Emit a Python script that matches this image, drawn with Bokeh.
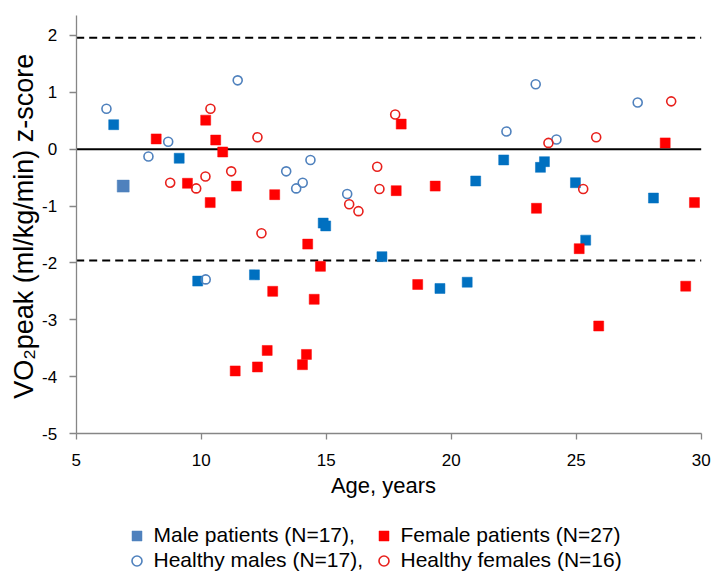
import math
from bokeh.plotting import figure
from bokeh.models import Legend, LegendItem, FixedTicker, Range1d, Label
from bokeh.embed import file_html
from bokeh.resources import INLINE

# ---- data ----
x_ticks = [5, 10, 15, 20, 25, 30]
y_ticks = [-5, -4, -3, -2, -1, 0, 1, 2]
y_tick_labels = ["-5", "-4", "-3", "-2", "-1", "0", "1", "2"]
x_axis_min, x_axis_max = 5, 30
y_axis_min, y_axis_max = -5, 2.35
z_limit = 1.96
z_zero = 0.0

male_patients_age = [6.50, 9.12, 9.86, 12.13, 14.88, 14.98, 17.23, 19.55, 20.64, 20.98,
                     22.10, 23.57, 23.73, 24.97, 25.38, 28.09]
male_patients_z = [0.43, -0.16, -2.32, -2.21, -1.30, -1.35, -1.89, -2.45, -2.34, -0.56,
                   -0.19, -0.32, -0.22, -0.59, -1.60, -0.86]
male_patient_marked_age = [6.88]
male_patient_marked_z = [-0.65]

female_patients_age = [8.20, 9.45, 10.18, 10.36, 10.58, 10.86, 11.41, 12.94, 14.26, 12.86,
                       12.64, 11.36, 12.25, 14.21, 14.05, 14.52, 18.00, 17.80, 19.36, 14.77,
                       18.66, 28.56, 29.73, 23.41, 25.12, 29.38, 25.90]
female_patients_z = [0.18, -0.60, 0.51, -0.94, 0.16, -0.05, -0.65, -0.80, -1.67, -2.50,
                     -3.54, -3.90, -3.83, -3.61, -3.79, -2.64, 0.44, -0.73, -0.65, -2.06,
                     -2.38, 0.11, -0.94, -1.04, -1.75, -2.41, -3.11]

healthy_males_age = [6.21, 7.89, 8.68, 11.46, 13.40, 13.80, 14.06, 14.37, 10.18, 15.84,
                     22.21, 23.38, 27.46, 24.21]
healthy_males_z = [0.71, -0.13, 0.13, 1.21, -0.39, -0.69, -0.59, -0.19, -2.29, -0.79,
                   0.31, 1.14, 0.82, 0.17]

healthy_females_age = [8.76, 9.80, 10.17, 10.37, 11.20, 12.25, 12.41, 17.76, 17.04, 17.13,
                       15.92, 16.29, 23.89, 25.80, 28.80, 25.28]
healthy_females_z = [-0.59, -0.69, -0.48, 0.71, -0.39, 0.21, -1.48, 0.61, -0.31, -0.70,
                     -0.97, -1.09, 0.11, 0.21, 0.84, -0.70]

labels = ["Male patients (N=17),", "Female patients (N=27)",
          "Healthy males (N=17),", "Healthy females (N=16)"]
x_title = "Age, years"
y_title = "VO\u2082peak (ml/kg/min)  z-score"

FONT = "Liberation Sans"
BLUE = "#0070C0"
STEEL = "#4F81BD"
RED = "#FF0000"

# Layout: the frame covers the whole canvas; axes are pinned inside it.
W, H = 717, 580
left_px, right_px = 75.7, 700.7      # x = 5 and x = 30
top_px, axis_px = 15, 433            # y = 2.35 and y = -5
xs = (right_px - left_px) / (x_axis_max - x_axis_min)
ys = (axis_px - top_px) / (y_axis_max - y_axis_min)
x_range = Range1d(x_axis_min - left_px / xs, x_axis_max + (W - right_px) / xs)
y_range = Range1d(y_axis_min - (H - axis_px) / ys, y_axis_max + top_px / ys)

p = figure(width=W, height=H, output_backend="svg", toolbar_location=None, tools="",
           x_range=x_range, y_range=y_range,
           min_border_left=0, min_border_right=0, min_border_top=0, min_border_bottom=0)
p.outline_line_color = None
p.xgrid.visible = False
p.ygrid.visible = False
p.background_fill_color = "white"
p.border_fill_color = "white"

for ax in (p.xaxis[0], p.yaxis[0]):
    ax.axis_line_color = "#868686"
    ax.axis_line_width = 1.3
    ax.major_tick_line_color = "#868686"
    ax.major_tick_line_width = 1.3
    ax.major_tick_in = 0
    ax.minor_tick_line_color = None
    ax.major_label_text_font = FONT
    ax.major_label_text_font_size = "17px"
    ax.major_label_text_color = "black"

p.xaxis.fixed_location = y_axis_min
p.yaxis.fixed_location = x_axis_min
p.xaxis.bounds = (x_axis_min, x_axis_max)
p.yaxis.bounds = (y_axis_min, y_axis_max)
p.xaxis.ticker = FixedTicker(ticks=x_ticks)
p.yaxis.ticker = FixedTicker(ticks=y_ticks)
p.yaxis.major_label_overrides = dict(zip(y_ticks, y_tick_labels))
p.xaxis.major_tick_out = 6
p.yaxis.major_tick_out = 7
p.xaxis.major_label_standoff = 14
p.yaxis.major_label_standoff = 12

# axis titles
p.add_layout(Label(x=383, y=H - 485, x_units="screen", y_units="screen", text=x_title,
                   text_font=FONT, text_font_size="22px", text_color="black",
                   text_align="center", text_baseline="middle"))
p.add_layout(Label(x=23, y=H - 222, x_units="screen", y_units="screen", text=y_title,
                   angle=math.pi / 2, text_font=FONT, text_font_size="27px",
                   text_color="black", text_align="center", text_baseline="middle"))

# reference lines (zero and +/-1.96)
p.segment(x0=[x_axis_min], x1=[x_axis_max], y0=[z_zero], y1=[z_zero],
          line_color="black", line_width=2)
p.segment(x0=[x_axis_min, x_axis_min], x1=[x_axis_max, x_axis_max],
          y0=[z_limit, -z_limit], y1=[z_limit, -z_limit],
          line_color="black", line_width=2, line_dash="8 5")

r_mp = p.scatter(male_patients_age, male_patients_z, marker="square", size=10,
                 fill_color=BLUE, line_color=BLUE, line_width=0.5)
r_mark = p.scatter(male_patient_marked_age, male_patient_marked_z, marker="square", size=12,
                   fill_color=STEEL, line_color=STEEL, line_width=0.5)
r_fp = p.scatter(female_patients_age, female_patients_z, marker="square", size=10,
                 fill_color=RED, line_color=RED, line_width=0.5)
r_hm = p.scatter(healthy_males_age, healthy_males_z, marker="circle", size=9,
                 fill_color=None, line_color=STEEL, line_width=1.6)
r_hf = p.scatter(healthy_females_age, healthy_females_z, marker="circle", size=9,
                 fill_color=None, line_color="#E8201C", line_width=1.6)


def make_legend(items, loc):
    return Legend(items=items, location=loc, orientation="vertical",
                  glyph_width=25, glyph_height=25, label_standoff=5, spacing=0,
                  padding=0, margin=0, label_height=25,
                  border_line_color=None, background_fill_alpha=0,
                  label_text_font=FONT, label_text_font_size="21px",
                  label_text_color="black")


leg1 = make_legend([LegendItem(label=labels[0], renderers=[r_mark]),
                    LegendItem(label=labels[2], renderers=[r_hm])], (123.5, 7.5))
leg2 = make_legend([LegendItem(label=labels[1], renderers=[r_fp]),
                    LegendItem(label=labels[3], renderers=[r_hf])], (370.5, 7.5))
p.add_layout(leg1)
p.add_layout(leg2)

open("out.html", "w").write(file_html(p, INLINE))
